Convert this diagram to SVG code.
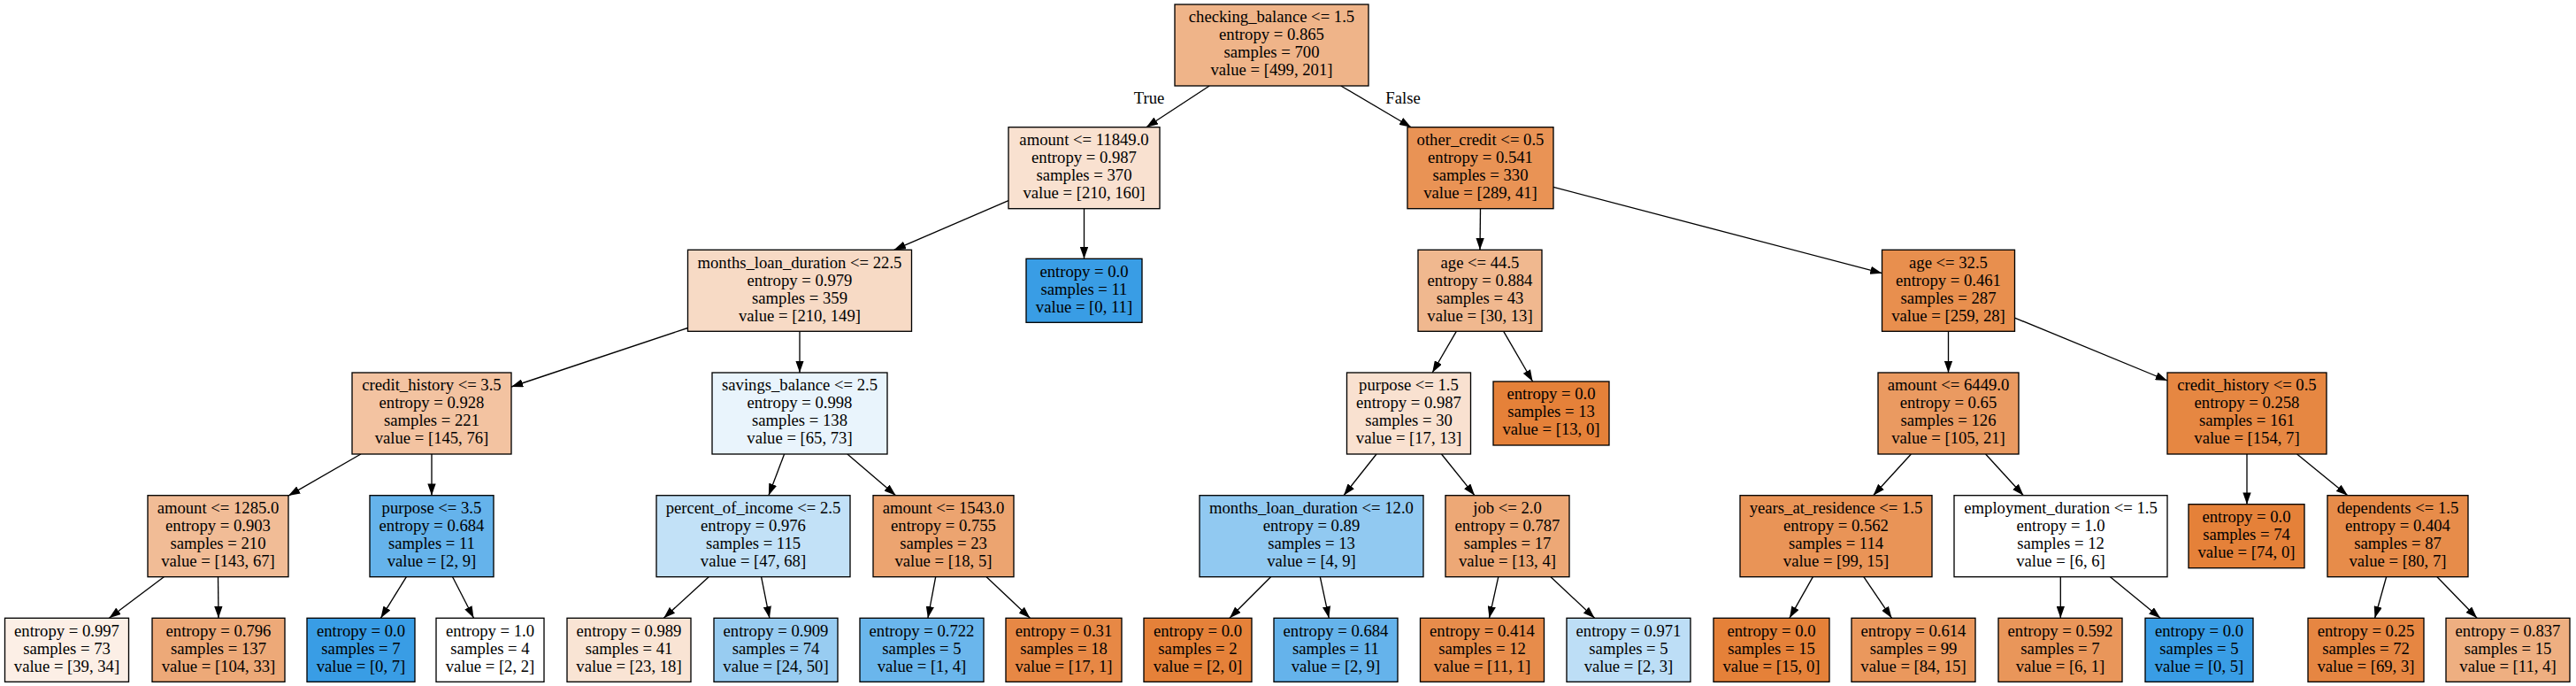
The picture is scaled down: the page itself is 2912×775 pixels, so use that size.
<svg xmlns="http://www.w3.org/2000/svg" width="2912" height="775" viewBox="0 0 2912 775">
<defs>
<marker id="ah" viewBox="0 0 10 7" markerWidth="13.3" markerHeight="9.3" refX="10" refY="3.5" orient="auto" markerUnits="userSpaceOnUse">
<path d="M0,0 L10,3.5 L0,7 z" fill="#000" stroke="none"/>
</marker>
</defs>
<style>
rect.n{stroke:#000;stroke-width:1.33}
text{font-family:"Liberation Serif","Times New Roman",serif;font-size:18.67px;fill:#000;text-anchor:middle}
line.e{stroke:#000;stroke-width:1.33;marker-end:url(#ah)}
</style>
<rect width="2912" height="775" fill="#fff"/>
<g id="edges">
<line class="e" x1="1367.2" y1="97" x2="1295.8" y2="143.7"/>
<line class="e" x1="1515.8" y1="97" x2="1595.2" y2="143.7"/>
<line class="e" x1="1140" y1="226.6" x2="1010.7" y2="282.3"/>
<line class="e" x1="1225.5" y1="235.7" x2="1225.5" y2="292.3"/>
<line class="e" x1="777.5" y1="370.5" x2="578" y2="437"/>
<line class="e" x1="904" y1="374.3" x2="904" y2="421"/>
<line class="e" x1="407.9" y1="513" x2="326" y2="560.1"/>
<line class="e" x1="488" y1="513" x2="488" y2="559.7"/>
<line class="e" x1="185.3" y1="651.7" x2="123.4" y2="698.3"/>
<line class="e" x1="246.5" y1="651.7" x2="247" y2="698.3"/>
<line class="e" x1="459.4" y1="651.7" x2="430.4" y2="698.3"/>
<line class="e" x1="511.6" y1="651.7" x2="535.5" y2="698.3"/>
<line class="e" x1="886.6" y1="513" x2="868.9" y2="559.7"/>
<line class="e" x1="957.9" y1="513" x2="1012.6" y2="559.7"/>
<line class="e" x1="801.2" y1="651.7" x2="750.3" y2="698.3"/>
<line class="e" x1="860.6" y1="651.7" x2="869.9" y2="698.3"/>
<line class="e" x1="1057.7" y1="651.7" x2="1048.9" y2="698.3"/>
<line class="e" x1="1115.1" y1="651.7" x2="1164.4" y2="698.3"/>
<line class="e" x1="1673.5" y1="235.7" x2="1673" y2="282.3"/>
<line class="e" x1="1756" y1="211.3" x2="2127.5" y2="308.7"/>
<line class="e" x1="1646.3" y1="374.3" x2="1619.2" y2="421"/>
<line class="e" x1="1699.7" y1="374.3" x2="1732.6" y2="431"/>
<line class="e" x1="1556" y1="513" x2="1519" y2="559.7"/>
<line class="e" x1="1629.5" y1="513" x2="1667" y2="559.7"/>
<line class="e" x1="1436.5" y1="651.7" x2="1390" y2="698.3"/>
<line class="e" x1="1492.3" y1="651.7" x2="1502.3" y2="698.3"/>
<line class="e" x1="1693.8" y1="651.7" x2="1683.5" y2="698.3"/>
<line class="e" x1="1753" y1="651.7" x2="1802.6" y2="698.3"/>
<line class="e" x1="2202.5" y1="374.3" x2="2202.5" y2="421"/>
<line class="e" x1="2277.5" y1="359.1" x2="2450" y2="430"/>
<line class="e" x1="2160.4" y1="513" x2="2117.6" y2="559.7"/>
<line class="e" x1="2244.6" y1="513" x2="2287.4" y2="559.7"/>
<line class="e" x1="2049.4" y1="651.7" x2="2022.9" y2="698.3"/>
<line class="e" x1="2106.8" y1="651.7" x2="2138.5" y2="698.3"/>
<line class="e" x1="2329.3" y1="651.7" x2="2329.3" y2="698.3"/>
<line class="e" x1="2385.5" y1="651.7" x2="2442.2" y2="698.3"/>
<line class="e" x1="2540" y1="513" x2="2540" y2="569.7"/>
<line class="e" x1="2596.6" y1="513" x2="2653.9" y2="559.7"/>
<line class="e" x1="2697.6" y1="651.7" x2="2684.6" y2="698.3"/>
<line class="e" x1="2755" y1="651.7" x2="2800.1" y2="698.3"/>
<text x="1299" y="117">True</text>
<text x="1586" y="117">False</text>
</g>
<g id="n0"><rect class="n" x="1328" y="5" width="219" height="92" fill="#efb489"/><text x="1437.5" y="25.3">checking_balance &lt;= 1.5</text><text x="1437.5" y="45.3">entropy = 0.865</text><text x="1437.5" y="65.3">samples = 700</text><text x="1437.5" y="85.3">value = [499, 201]</text></g>
<g id="n1"><rect class="n" x="1140" y="143.7" width="171" height="92" fill="#f9e1d0"/><text x="1225.5" y="164">amount &lt;= 11849.0</text><text x="1225.5" y="184">entropy = 0.987</text><text x="1225.5" y="204">samples = 370</text><text x="1225.5" y="224">value = [210, 160]</text></g>
<g id="n2"><rect class="n" x="1591" y="143.7" width="165" height="92" fill="#e99355"/><text x="1673.5" y="164">other_credit &lt;= 0.5</text><text x="1673.5" y="184">entropy = 0.541</text><text x="1673.5" y="204">samples = 330</text><text x="1673.5" y="224">value = [289, 41]</text></g>
<g id="n3"><rect class="n" x="777.5" y="282.3" width="253" height="92" fill="#f7dac5"/><text x="904" y="302.6">months_loan_duration &lt;= 22.5</text><text x="904" y="322.6">entropy = 0.979</text><text x="904" y="342.6">samples = 359</text><text x="904" y="362.6">value = [210, 149]</text></g>
<g id="n4"><rect class="n" x="1160" y="292.3" width="131" height="72" fill="#399de5"/><text x="1225.5" y="312.6">entropy = 0.0</text><text x="1225.5" y="332.6">samples = 11</text><text x="1225.5" y="352.6">value = [0, 11]</text></g>
<g id="n5"><rect class="n" x="1603" y="282.3" width="140" height="92" fill="#f0b88f"/><text x="1673" y="302.6">age &lt;= 44.5</text><text x="1673" y="322.6">entropy = 0.884</text><text x="1673" y="342.6">samples = 43</text><text x="1673" y="362.6">value = [30, 13]</text></g>
<g id="n6"><rect class="n" x="2127.5" y="282.3" width="150" height="92" fill="#e88f4e"/><text x="2202.5" y="302.6">age &lt;= 32.5</text><text x="2202.5" y="322.6">entropy = 0.461</text><text x="2202.5" y="342.6">samples = 287</text><text x="2202.5" y="362.6">value = [259, 28]</text></g>
<g id="n7"><rect class="n" x="398" y="421" width="180" height="92" fill="#f3c3a1"/><text x="488" y="441.3">credit_history &lt;= 3.5</text><text x="488" y="461.3">entropy = 0.928</text><text x="488" y="481.3">samples = 221</text><text x="488" y="501.3">value = [145, 76]</text></g>
<g id="n8"><rect class="n" x="805" y="421" width="198" height="92" fill="#e9f4fc"/><text x="904" y="441.3">savings_balance &lt;= 2.5</text><text x="904" y="461.3">entropy = 0.998</text><text x="904" y="481.3">samples = 138</text><text x="904" y="501.3">value = [65, 73]</text></g>
<g id="n9"><rect class="n" x="1522.5" y="421" width="140" height="92" fill="#f9e1d0"/><text x="1592.5" y="441.3">purpose &lt;= 1.5</text><text x="1592.5" y="461.3">entropy = 0.987</text><text x="1592.5" y="481.3">samples = 30</text><text x="1592.5" y="501.3">value = [17, 13]</text></g>
<g id="n10"><rect class="n" x="1688" y="431" width="131" height="72" fill="#e58139"/><text x="1753.5" y="451.3">entropy = 0.0</text><text x="1753.5" y="471.3">samples = 13</text><text x="1753.5" y="491.3">value = [13, 0]</text></g>
<g id="n11"><rect class="n" x="2123" y="421" width="159" height="92" fill="#ea9a61"/><text x="2202.5" y="441.3">amount &lt;= 6449.0</text><text x="2202.5" y="461.3">entropy = 0.65</text><text x="2202.5" y="481.3">samples = 126</text><text x="2202.5" y="501.3">value = [105, 21]</text></g>
<g id="n12"><rect class="n" x="2450" y="421" width="180" height="92" fill="#e68742"/><text x="2540" y="441.3">credit_history &lt;= 0.5</text><text x="2540" y="461.3">entropy = 0.258</text><text x="2540" y="481.3">samples = 161</text><text x="2540" y="501.3">value = [154, 7]</text></g>
<g id="n13"><rect class="n" x="167" y="559.7" width="159" height="92" fill="#f1bc96"/><text x="246.5" y="580">amount &lt;= 1285.0</text><text x="246.5" y="600">entropy = 0.903</text><text x="246.5" y="620">samples = 210</text><text x="246.5" y="640">value = [143, 67]</text></g>
<g id="n14"><rect class="n" x="418" y="559.7" width="140" height="92" fill="#65b3eb"/><text x="488" y="580">purpose &lt;= 3.5</text><text x="488" y="600">entropy = 0.684</text><text x="488" y="620">samples = 11</text><text x="488" y="640">value = [2, 9]</text></g>
<g id="n15"><rect class="n" x="742" y="559.7" width="219" height="92" fill="#c2e1f7"/><text x="851.5" y="580">percent_of_income &lt;= 2.5</text><text x="851.5" y="600">entropy = 0.976</text><text x="851.5" y="620">samples = 115</text><text x="851.5" y="640">value = [47, 68]</text></g>
<g id="n16"><rect class="n" x="987" y="559.7" width="159" height="92" fill="#eca470"/><text x="1066.5" y="580">amount &lt;= 1543.0</text><text x="1066.5" y="600">entropy = 0.755</text><text x="1066.5" y="620">samples = 23</text><text x="1066.5" y="640">value = [18, 5]</text></g>
<g id="n17"><rect class="n" x="1356" y="559.7" width="253" height="92" fill="#91c9f1"/><text x="1482.5" y="580">months_loan_duration &lt;= 12.0</text><text x="1482.5" y="600">entropy = 0.89</text><text x="1482.5" y="620">samples = 13</text><text x="1482.5" y="640">value = [4, 9]</text></g>
<g id="n18"><rect class="n" x="1634" y="559.7" width="140" height="92" fill="#eda876"/><text x="1704" y="580">job &lt;= 2.0</text><text x="1704" y="600">entropy = 0.787</text><text x="1704" y="620">samples = 17</text><text x="1704" y="640">value = [13, 4]</text></g>
<g id="n19"><rect class="n" x="1967" y="559.7" width="217" height="92" fill="#e99457"/><text x="2075.5" y="580">years_at_residence &lt;= 1.5</text><text x="2075.5" y="600">entropy = 0.562</text><text x="2075.5" y="620">samples = 114</text><text x="2075.5" y="640">value = [99, 15]</text></g>
<g id="n20"><rect class="n" x="2209" y="559.7" width="241" height="92" fill="#ffffff"/><text x="2329.5" y="580">employment_duration &lt;= 1.5</text><text x="2329.5" y="600">entropy = 1.0</text><text x="2329.5" y="620">samples = 12</text><text x="2329.5" y="640">value = [6, 6]</text></g>
<g id="n21"><rect class="n" x="2474" y="569.7" width="131" height="72" fill="#e58139"/><text x="2539.5" y="590">entropy = 0.0</text><text x="2539.5" y="610">samples = 74</text><text x="2539.5" y="630">value = [74, 0]</text></g>
<g id="n22"><rect class="n" x="2631" y="559.7" width="159" height="92" fill="#e78c4a"/><text x="2710.5" y="580">dependents &lt;= 1.5</text><text x="2710.5" y="600">entropy = 0.404</text><text x="2710.5" y="620">samples = 87</text><text x="2710.5" y="640">value = [80, 7]</text></g>
<g id="n23"><rect class="n" x="5.5" y="698.3" width="140" height="72" fill="#fcefe6"/><text x="75.5" y="718.6">entropy = 0.997</text><text x="75.5" y="738.6">samples = 73</text><text x="75.5" y="758.6">value = [39, 34]</text></g>
<g id="n24"><rect class="n" x="172" y="698.3" width="150" height="72" fill="#eda978"/><text x="247" y="718.6">entropy = 0.796</text><text x="247" y="738.6">samples = 137</text><text x="247" y="758.6">value = [104, 33]</text></g>
<g id="n25"><rect class="n" x="347" y="698.3" width="122" height="72" fill="#399de5"/><text x="408" y="718.6">entropy = 0.0</text><text x="408" y="738.6">samples = 7</text><text x="408" y="758.6">value = [0, 7]</text></g>
<g id="n26"><rect class="n" x="493" y="698.3" width="122" height="72" fill="#ffffff"/><text x="554" y="718.6">entropy = 1.0</text><text x="554" y="738.6">samples = 4</text><text x="554" y="758.6">value = [2, 2]</text></g>
<g id="n27"><rect class="n" x="641" y="698.3" width="140" height="72" fill="#f9e4d4"/><text x="711" y="718.6">entropy = 0.989</text><text x="711" y="738.6">samples = 41</text><text x="711" y="758.6">value = [23, 18]</text></g>
<g id="n28"><rect class="n" x="807" y="698.3" width="140" height="72" fill="#98ccf1"/><text x="877" y="718.6">entropy = 0.909</text><text x="877" y="738.6">samples = 74</text><text x="877" y="758.6">value = [24, 50]</text></g>
<g id="n29"><rect class="n" x="972" y="698.3" width="140" height="72" fill="#6ab6ec"/><text x="1042" y="718.6">entropy = 0.722</text><text x="1042" y="738.6">samples = 5</text><text x="1042" y="758.6">value = [1, 4]</text></g>
<g id="n30"><rect class="n" x="1137" y="698.3" width="131" height="72" fill="#e78845"/><text x="1202.5" y="718.6">entropy = 0.31</text><text x="1202.5" y="738.6">samples = 18</text><text x="1202.5" y="758.6">value = [17, 1]</text></g>
<g id="n31"><rect class="n" x="1293" y="698.3" width="122" height="72" fill="#e58139"/><text x="1354" y="718.6">entropy = 0.0</text><text x="1354" y="738.6">samples = 2</text><text x="1354" y="758.6">value = [2, 0]</text></g>
<g id="n32"><rect class="n" x="1440" y="698.3" width="140" height="72" fill="#65b3eb"/><text x="1510" y="718.6">entropy = 0.684</text><text x="1510" y="738.6">samples = 11</text><text x="1510" y="758.6">value = [2, 9]</text></g>
<g id="n33"><rect class="n" x="1605.5" y="698.3" width="140" height="72" fill="#e78c4b"/><text x="1675.5" y="718.6">entropy = 0.414</text><text x="1675.5" y="738.6">samples = 12</text><text x="1675.5" y="758.6">value = [11, 1]</text></g>
<g id="n34"><rect class="n" x="1771" y="698.3" width="140" height="72" fill="#bddef6"/><text x="1841" y="718.6">entropy = 0.971</text><text x="1841" y="738.6">samples = 5</text><text x="1841" y="758.6">value = [2, 3]</text></g>
<g id="n35"><rect class="n" x="1937" y="698.3" width="131" height="72" fill="#e58139"/><text x="2002.5" y="718.6">entropy = 0.0</text><text x="2002.5" y="738.6">samples = 15</text><text x="2002.5" y="758.6">value = [15, 0]</text></g>
<g id="n36"><rect class="n" x="2093" y="698.3" width="140" height="72" fill="#ea985d"/><text x="2163" y="718.6">entropy = 0.614</text><text x="2163" y="738.6">samples = 99</text><text x="2163" y="758.6">value = [84, 15]</text></g>
<g id="n37"><rect class="n" x="2259" y="698.3" width="140" height="72" fill="#e9965a"/><text x="2329" y="718.6">entropy = 0.592</text><text x="2329" y="738.6">samples = 7</text><text x="2329" y="758.6">value = [6, 1]</text></g>
<g id="n38"><rect class="n" x="2425" y="698.3" width="122" height="72" fill="#399de5"/><text x="2486" y="718.6">entropy = 0.0</text><text x="2486" y="738.6">samples = 5</text><text x="2486" y="758.6">value = [0, 5]</text></g>
<g id="n39"><rect class="n" x="2609" y="698.3" width="131" height="72" fill="#e68642"/><text x="2674.5" y="718.6">entropy = 0.25</text><text x="2674.5" y="738.6">samples = 72</text><text x="2674.5" y="758.6">value = [69, 3]</text></g>
<g id="n40"><rect class="n" x="2765" y="698.3" width="140" height="72" fill="#eeaf81"/><text x="2835" y="718.6">entropy = 0.837</text><text x="2835" y="738.6">samples = 15</text><text x="2835" y="758.6">value = [11, 4]</text></g>
</svg>
